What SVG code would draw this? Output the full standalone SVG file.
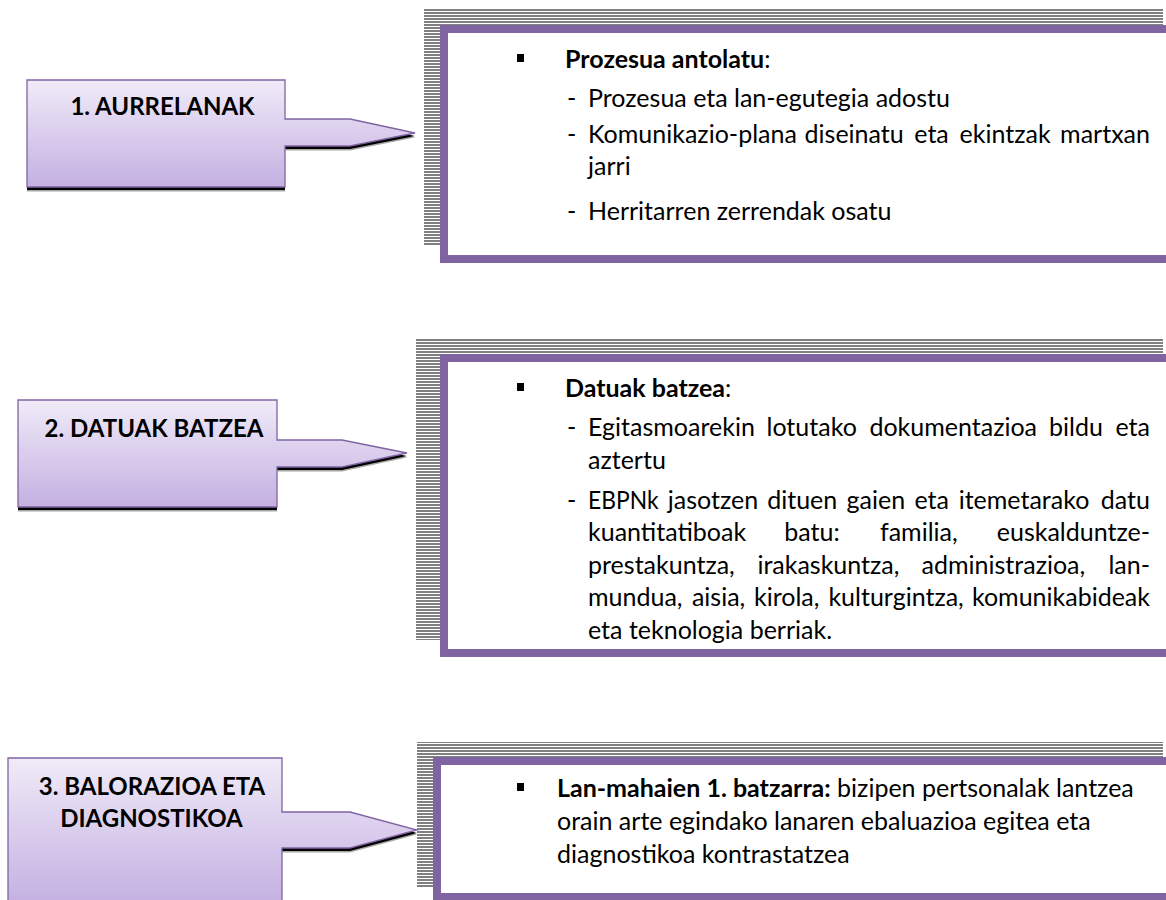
<svg xmlns="http://www.w3.org/2000/svg" width="1166" height="900" viewBox="0 0 1166 900">
<style>
.r{font-family:Lato,"Liberation Sans",sans-serif;font-size:25px;fill:#000}
.bd{font-family:Lato,"Liberation Sans",sans-serif;font-size:25px;font-weight:bold;fill:#000}
.tt{font-family:Lato,"Liberation Sans",sans-serif;font-size:24px;font-weight:bold;fill:#000;text-anchor:middle}
.e{text-anchor:end}
.box{fill:url(#grad);stroke:#8064A2;stroke-width:1.3}
.sh1{fill:#000}
.sh2{fill:#A6A6A6}
.frame{fill:#fff;stroke:#8064A2;stroke-width:8}
.hatch{fill:url(#stripes)}
</style>
<defs>
<linearGradient id="grad" x1="0" y1="0" x2="0" y2="1">
<stop offset="0" stop-color="#F0EBF8"/>
<stop offset="0.5" stop-color="#DACDED"/>
<stop offset="1" stop-color="#C3B0E1"/>
</linearGradient>
<pattern id="stripes" width="6" height="3" patternUnits="userSpaceOnUse">
<rect width="6" height="3" fill="#fff"/>
<rect width="6" height="2" fill="#808080"/>
</pattern>
</defs>
<rect width="1166" height="900" fill="#fff"/>

<g id="panel1">
<rect class="hatch" x="424" y="9" width="739" height="236"/>
<rect class="frame" x="444" y="29" width="740" height="230"/>
<rect x="517" y="54" width="7" height="8" fill="#000"/>
<text class="bd" x="565" y="68">Prozesua antolatu<tspan class="r" font-weight="normal">:</tspan></text>
<text class="r" x="567" y="107">-</text>
<text class="r" x="588" y="107">Prozesua eta lan-egutegia adostu</text>
<text class="r" x="567" y="143">-</text>
<text class="r" y="143"><tspan x="588">Komunikazio-plana</tspan><tspan x="804.6">diseinatu</tspan><tspan x="914.3">eta</tspan><tspan x="959.6">ekintzak</tspan></text>
<text class="r e" x="1150" y="143">martxan</text>
<text class="r" x="588" y="175">jarri</text>
<text class="r" x="567" y="220">-</text>
<text class="r" x="588" y="220">Herritarren zerrendak osatu</text>
</g>

<g id="panel2">
<rect class="hatch" x="416" y="338" width="747" height="302"/>
<rect class="frame" x="444" y="358" width="740" height="295"/>
<rect x="517" y="383" width="7" height="8" fill="#000"/>
<text class="bd" x="565" y="397">Datuak batzea<tspan class="r" font-weight="normal">:</tspan></text>
<text class="r" x="567" y="436">-</text>
<text class="r" y="436"><tspan x="588">Egitasmoarekin</tspan><tspan x="766.5">lotutako</tspan><tspan x="869.4">dokumentazioa</tspan><tspan x="1049">bildu</tspan></text>
<text class="r e" x="1150" y="436">eta</text>
<text class="r" x="588" y="468.5">aztertu</text>
<text class="r" x="567" y="508.5">-</text>
<text class="r" x="588" y="508.5" textLength="70.5" lengthAdjust="spacingAndGlyphs">EBPNk</text>
<text class="r" y="508.5"><tspan x="667.8">jasotzen</tspan><tspan x="767.2">dituen</tspan><tspan x="846.6">gaien</tspan><tspan x="914.5">eta</tspan><tspan x="958.7">itemetarako</tspan></text>
<text class="r e" x="1150" y="508.5">datu</text>
<text class="r" y="541"><tspan x="588">kuantitatiboak</tspan><tspan x="784.3">batu:</tspan><tspan x="880">familia,</tspan></text>
<text class="r e" x="1150" y="541">euskalduntze-</text>
<text class="r" y="573.5"><tspan x="588">prestakuntza,</tspan><tspan x="757.4">irakaskuntza,</tspan><tspan x="921.6">administrazioa,</tspan></text>
<text class="r e" x="1150" y="573.5">lan-</text>
<text class="r" y="606"><tspan x="588">mundua,</tspan><tspan x="691.9">aisia,</tspan><tspan x="754">kirola,</tspan><tspan x="828.4">kulturgintza,</tspan></text>
<text class="r e" x="1150" y="606">komunikabideak</text>
<text class="r" x="588" y="639">eta teknologia berriak.</text>
</g>

<g id="panel3">
<rect class="hatch" x="417" y="742" width="746" height="146"/>
<rect class="frame" x="437" y="761" width="747" height="136"/>
<rect x="517" y="783" width="7" height="8" fill="#000"/>
<text class="bd" x="557" y="797">Lan-mahaien 1. batzarra:<tspan class="r" font-weight="normal"> bizipen pertsonalak lantzea</tspan></text>
<text class="r" x="557" y="830">orain arte egindako lanaren ebaluazioa egitea eta</text>
<text class="r" x="557" y="863">diagnostikoa kontrastatzea</text>
</g>

<g id="box1">
<path class="sh2" transform="translate(0,4.5)" d="M27,80 H285 V119 H350 L415,133 L350,146 H285 V187 H27 Z"/>
<path class="sh1" transform="translate(0,3)" d="M27,80 H285 V119 H350 L415,133 L350,146 H285 V187 H27 Z"/>
<path class="box" d="M27,80 H285 V119 H350 L415,133 L350,146 H285 V187 H27 Z"/>
<text class="tt" x="162.5" y="115">1. AURRELANAK</text>
</g>

<g id="box2">
<path class="sh2" transform="translate(0,4.5)" d="M18,400 H277 V440 H342 L407,453 L342,467 H277 V507 H18 Z"/>
<path class="sh1" transform="translate(0,3)" d="M18,400 H277 V440 H342 L407,453 L342,467 H277 V507 H18 Z"/>
<path class="box" d="M18,400 H277 V440 H342 L407,453 L342,467 H277 V507 H18 Z"/>
<text class="tt" x="154" y="437">2. DATUAK BATZEA</text>
</g>

<g id="box3">
<path class="sh2" transform="translate(0,4.5)" d="M8,758 H282 V812 H350 L417,830 L350,848 H282 V905 H8 Z"/>
<path class="sh1" transform="translate(0,3)" d="M8,758 H282 V812 H350 L417,830 L350,848 H282 V905 H8 Z"/>
<path class="box" d="M8,758 H282 V812 H350 L417,830 L350,848 H282 V905 H8 Z"/>
<text class="tt" x="152" y="795">3. BALORAZIOA ETA</text>
<text class="tt" x="151.5" y="827">DIAGNOSTIKOA</text>
</g>

<g id="connectors"/>
</svg>
